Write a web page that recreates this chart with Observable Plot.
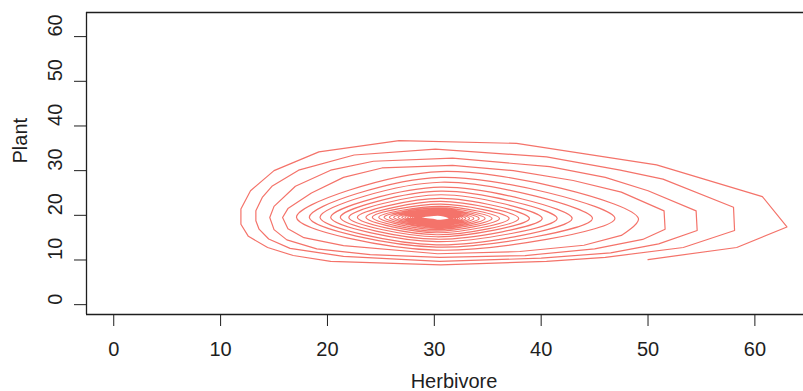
<!DOCTYPE html>
<html><head><meta charset="utf-8">
<script src="https://cdn.jsdelivr.net/npm/d3@7"></script>
<script src="https://cdn.jsdelivr.net/npm/@observablehq/plot@0.6"></script>
<style>body{margin:0;background:#fff;}</style>
</head><body><div id="chart"></div>
<script>
const xTicks = [0, 10, 20, 30, 40, 50, 60];
const yTicks = [0, 10, 20, 30, 40, 50, 60];
const xLabel = "Herbivore";
const yLabel = "Plant";

// Outer loops of the trajectory (read vertex by vertex)
const outerHerbivore = [
  50.0, 58.3, 63.0, 60.7, 50.8, 37.7, 26.7, 19.2, 15.0, 12.8, 11.9, 11.9, 12.6, 14.4, 16.8, 20.3, 30.6, 40.5, 46.0, 53.3,
  58.1, 58.0, 51.4, 47.4, 40.5, 30.1, 22.5, 17.3, 14.8, 13.9, 13.3, 13.3, 13.6, 14.5, 16.5, 21.5, 30.5, 40.0, 46.5, 51.0,
  54.6, 54.5, 50.0, 46.0, 40.8, 31.7, 24.3, 20.3, 17.0, 15.0, 14.6, 15.0, 16.2, 19.0, 24.0, 30.5, 38.5, 45.0, 49.5,
  51.6, 51.5, 47.5, 43.0, 37.4, 31.7, 25.1, 21.5, 18.5, 16.3, 15.8, 16.3, 17.8, 21.5, 30.3, 38.0, 44.0, 47.5
];
const outerPlant = [
  10.1, 12.8, 17.4, 24.2, 31.3, 36.1, 36.7, 34.2, 30.0, 25.5, 21.4, 18.0, 15.3, 12.8, 11.0, 9.7, 8.9, 9.7, 10.6, 12.8,
  16.6, 21.8, 28.1, 30.1, 33.1, 34.8, 33.5, 30.1, 26.5, 24.0, 21.0, 18.8, 16.9, 14.7, 12.6, 10.8, 9.7, 10.4, 11.6, 13.6,
  16.6, 21.0, 25.5, 28.5, 30.9, 32.8, 32.1, 30.1, 26.5, 22.0, 19.5, 16.8, 14.5, 12.5, 11.2, 10.6, 11.0, 12.5, 14.6,
  16.9, 21.0, 25.2, 27.8, 30.0, 31.2, 30.6, 28.5, 25.0, 21.5, 19.5, 17.0, 15.0, 13.2, 11.4, 11.9, 13.3, 15.5
];

// Inner loops (5 onwards): extremes read per loop
const loopRight  = [49.1, 46.9, 44.8, 42.9, 41.5, 40.1, 38.9, 37.9, 37.0, 36.1, 35.4, 34.75, 34.2, 33.7, 33.3, 32.95, 32.65, 32.4, 32.2, 32.0, 31.85, 31.7, 31.6, 31.5, 31.4];
const loopTop    = [29.8, 28.5, 27.4, 26.3, 25.4, 24.6, 23.8, 23.1, 22.5, 22.0, 21.65, 21.38, 21.15, 20.95, 20.78, 20.64, 20.52, 20.41, 20.32, 20.24, 20.17, 20.11, 20.06, 20.02, 19.98];
const loopLeft   = [17.1, 18.3, 19.3, 20.3, 21.2, 22.0, 22.8, 23.6, 24.2, 24.8, 25.3, 25.8, 26.2, 26.6, 26.95, 27.25, 27.5, 27.75, 27.95, 28.15, 28.3, 28.45, 28.55, 28.65, 28.75];
const loopBottom = [12.2, 12.9, 13.4, 14.1, 14.65, 15.2, 15.65, 16.1, 16.45, 16.8, 17.1, 17.35, 17.6, 17.8, 17.98, 18.13, 18.27, 18.4, 18.5, 18.6, 18.68, 18.76, 18.83, 18.89, 18.95];
const tipRightPlant = 19.3, tipLeftPlant = 19.55, topHerbivore = 30.6, bottomHerbivore = 30.2;

const xDomain = [-2.55, 64.55];
const yDomain = [-2.2, 65.4];
const lineColor = "#f4736a";
const ink = "#1e1e1e";

const outer = outerHerbivore.map((h, i) => ({h, p: outerPlant[i]}));
const inner = [outer[outer.length - 1]];
loopRight.forEach((r, k) => {
  inner.push({h: r, p: tipRightPlant}, {h: topHerbivore, p: loopTop[k]},
             {h: loopLeft[k], p: tipLeftPlant}, {h: bottomHerbivore, p: loopBottom[k]});
});

const chart = Plot.plot({
  width: 803, height: 391,
  marginLeft: 86, marginRight: 0, marginTop: 12, marginBottom: 77,
  style: {fontFamily: "'Liberation Sans', Arial, sans-serif", fontSize: "20px", color: ink, background: "#fff"},
  x: {domain: xDomain, ticks: xTicks, tickSize: 12, tickPadding: 15, label: null},
  y: {domain: yDomain, ticks: yTicks, tickSize: 12, tickFormat: () => "", label: null},
  marks: [
    Plot.ruleY([yDomain[0], yDomain[1]], {stroke: ink, strokeWidth: 1.3}),
    Plot.ruleX([xDomain[0]], {stroke: ink, strokeWidth: 1.3}),
    Plot.line(outer, {x: "h", y: "p", stroke: lineColor, strokeWidth: 1.2}),
    Plot.line(inner, {x: "h", y: "p", stroke: lineColor, strokeWidth: 1.2, curve: "catmull-rom"}),
    Plot.text(yTicks, {y: d => d, text: d => String(d), frameAnchor: "left", dx: -31, rotate: -90, fontSize: 20, fill: ink}),
    Plot.text([yLabel], {frameAnchor: "left", dx: -66, rotate: -90, fontSize: 20, fill: ink}),
    Plot.text([xLabel], {frameAnchor: "bottom", dx: 9, dy: 73, fontSize: 20, fill: ink})
  ]
});
document.getElementById("chart").append(chart);
</script>
</body></html>
